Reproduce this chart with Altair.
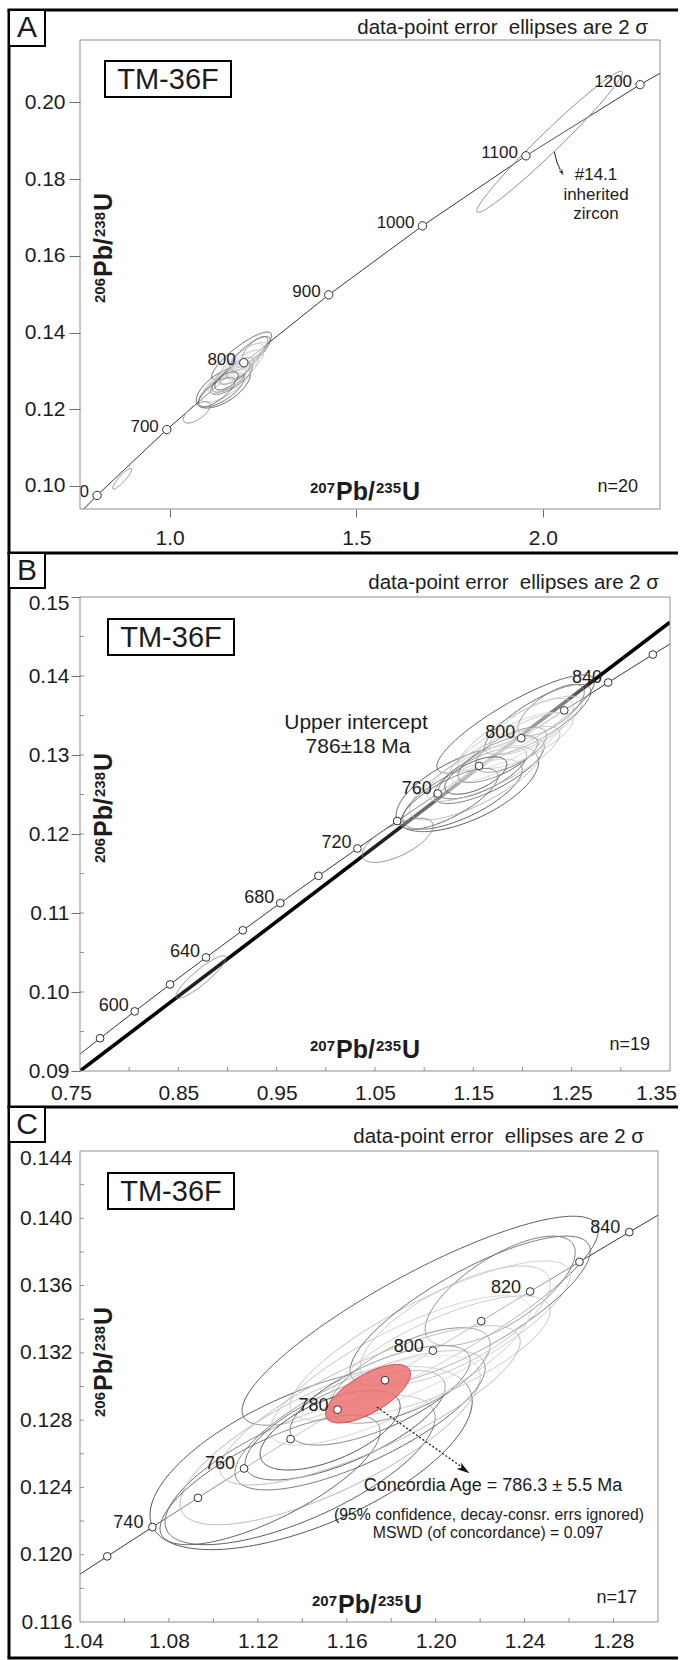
import numpy as np
import pandas as pd
import altair as alt

FONT = "Liberation Sans"
INK = "#1c1c1c"
CURVE = "#383838"
PLOT_EDGE = "#8f8f8f"
TICK = "#8f8f8f"

# ---------------- concordia reference points: age (Ma), 207Pb/235U, 206Pb/238U ----------------
A_AGE = [500, 600, 700, 800, 900, 1000, 1100, 1200, 1300]
A_R75 = [0.63628, 0.80563, 0.99251, 1.19873, 1.42629, 1.67741, 1.95452, 2.26030, 2.59774]
A_R68 = [0.080650, 0.097544, 0.114702, 0.132129, 0.149828, 0.167804, 0.186061, 0.204603, 0.223435]
A_DOTS = [600, 700, 800, 900, 1000, 1100, 1200]
A_TAGS = [600, 700, 800, 900, 1000, 1100, 1200]

B_AGE = [560, 580, 600, 620, 640, 660, 680, 700, 720, 740, 760, 780, 800, 820, 840, 860, 880]
B_R75 = [0.735882, 0.770414, 0.80563, 0.841548, 0.878182, 0.915543, 0.953647, 0.99251, 1.032144,
         1.07257, 1.113797, 1.155846, 1.19873, 1.242468, 1.287077, 1.332572, 1.378972]
B_R68 = [0.090755, 0.094144, 0.097544, 0.100955, 0.104376, 0.107807, 0.111249, 0.114702, 0.118166,
         0.121641, 0.125126, 0.128622, 0.132129, 0.135647, 0.139176, 0.142716, 0.146266]
B_DOTS = [580, 600, 620, 640, 660, 680, 700, 720, 740, 760, 780, 800, 820, 840, 860]
B_TAGS = [600, 640, 680, 720, 760, 800, 840]

C_AGE = [720, 730, 740, 750, 760, 770, 780, 790, 800, 810, 820, 830, 840, 850]
C_R75 = [1.032144, 1.052258, 1.07257, 1.093083, 1.113797, 1.134718, 1.155846, 1.177181,
         1.19873, 1.220491, 1.242468, 1.264662, 1.287077, 1.309712]
C_R68 = [0.118166, 0.119902, 0.121641, 0.123382, 0.125126, 0.126873, 0.128622, 0.130374,
         0.132129, 0.133887, 0.135647, 0.137410, 0.139176, 0.140944]
C_DOTS = [730, 740, 750, 760, 770, 780, 790, 800, 810, 820, 830, 840]
C_TAGS = [740, 760, 780, 800, 820, 840]

# ---------------- zircon spot analyses (2-sigma error ellipses) ----------------
SPOT = ["s01", "s02", "s03", "s04", "s05", "s06", "s07", "s08", "s09", "s10",
        "s11", "s12", "s13", "s14", "s15", "s16", "s17", "s18", "s19", "s20"]
SPOT_X = [1.19302, 1.14396, 1.13901, 1.15251, 1.16601, 1.15926, 1.18401, 1.19752, 1.21552, 1.22902,
          1.17501, 1.18851, 1.20202, 1.12551, 1.17051, 1.20877, 1.15251, 1.0730, 0.8730, 2.0180]
SPOT_Y = [0.133911, 0.125746, 0.125036, 0.126811, 0.127994, 0.127698, 0.130953, 0.132728, 0.134503,
          0.135686, 0.129473, 0.130657, 0.131840, 0.124444, 0.128882, 0.133615, 0.127402,
          0.11920, 0.10190, 0.18970]
SPOT_SX = [0.08011, 0.07246, 0.06076, 0.06751, 0.05626, 0.04500, 0.05851, 0.06301, 0.05401, 0.03375,
           0.04050, 0.03600, 0.04950, 0.04950, 0.06751, 0.04275, 0.03150, 0.0360, 0.0255, 0.1950]
SPOT_SY = [0.006213, 0.005444, 0.004438, 0.005030, 0.004142, 0.003254, 0.004438, 0.004734, 0.004438,
           0.003254, 0.002959, 0.002840, 0.003550, 0.003846, 0.004734, 0.003550, 0.002367,
           0.00280, 0.00270, 0.01838]
SPOT_RHO = [0.86, 0.62, 0.70, 0.75, 0.75, 0.70, 0.80, 0.82, 0.80, 0.70,
            0.70, 0.65, 0.75, 0.75, 0.80, 0.70, 0.60, 0.65, 0.90, 0.98]
SPOT_EDGE = ["#5e5e5e", "#585858", "#5c5c5c", "#b4b4b4", "#666666", "#404040", "#bcbcbc", "#c0c0c0",
             "#6a6a6a", "#7a7a7a", "#4a4a4a", "#6e6e6e", "#c4c4c4", "#626262", "#bdbdbd", "#c8c8c8",
             "#505050", "#8a8a8a", "#8a8a8a", "#8a8a8a"]
SPOT_IN = ["ABC"] * 17 + ["AB", "AB", "A"]

# concordia age ellipse (panel C)
CAGE_X = [1.1696]
CAGE_Y = [0.12957]
CAGE_SX = [0.0191]
CAGE_SY = [0.00174]
CAGE_RHO = [0.68]

# best-fit discordia through the spots (panel B)
DISC_X = [0.75, 1.35]
DISC_Y = [0.0900, 0.1468]

# annotation arrows
A_ARROW_X = [2.0305, 2.0375, 2.0469]
A_ARROW_Y = [0.18712, 0.18443, 0.18235]
A_HEAD = (2.0509, 0.18170, 60)
C_ARROW_X = [1.17353, 1.2120]
C_ARROW_Y = [0.128781, 0.125190]
C_HEAD = (1.21280, 0.125060, 35)

# axis ticks
A_XT = [1.0, 1.5, 2.0]
A_YT = [0.10, 0.12, 0.14, 0.16, 0.18, 0.20]
B_XT = [0.75, 0.85, 0.95, 1.05, 1.15, 1.25, 1.35]
B_YT = [0.09, 0.10, 0.11, 0.12, 0.13, 0.14, 0.15]
B_XMINOR = [0.80, 0.85, 0.90, 0.95, 1.00, 1.05, 1.10, 1.15, 1.20, 1.25, 1.30]
B_YMINOR = [0.095, 0.100, 0.105, 0.110, 0.115, 0.120, 0.125, 0.130, 0.135, 0.140, 0.145]
C_XT = [1.04, 1.08, 1.12, 1.16, 1.20, 1.24, 1.28]
C_YT = [0.116, 0.120, 0.124, 0.128, 0.132, 0.136, 0.140, 0.144]
C_XMINOR = [1.06, 1.08, 1.10, 1.12, 1.14, 1.16, 1.18, 1.20, 1.22, 1.24, 1.26, 1.28]
C_YMINOR = [0.118, 0.120, 0.122, 0.124, 0.126, 0.128, 0.130, 0.132, 0.134, 0.136, 0.138, 0.140, 0.142]

ONE = pd.DataFrame({"k": [0]})
TICK_FS = 21


def txt(s, x, y, size, align="center", baseline="middle", weight="normal", angle=None, color=INK):
    props = dict(text=s, font=FONT, fontSize=size, align=align, baseline=baseline,
                 fontWeight=weight, color=color)
    if angle is not None:
        props["angle"] = angle
    return alt.Chart(ONE).mark_text(**props).encode(x=alt.value(x), y=alt.value(y))


def rule(x, y, x2, y2, width=3.0, color="black"):
    return alt.Chart(ONE).mark_rule(strokeWidth=width, color=color, strokeCap="butt").encode(
        x=alt.value(x), y=alt.value(y), x2=alt.value(x2), y2=alt.value(y2))


def rect(x, y, x2, y2, stroke="black", width=2.0, fill="white", fill_opacity=1.0):
    return alt.Chart(ONE).mark_rect(stroke=stroke, strokeWidth=width, fill=fill,
                                    fillOpacity=fill_opacity).encode(
        x=alt.value(x), y=alt.value(y), x2=alt.value(x2), y2=alt.value(y2))


def outline(names, cx, cy, sx, sy, rho, edge, n=121):
    """Upper/lower branches of each error ellipse, sampled densely near the tips."""
    t = np.linspace(0.0, np.pi, n)
    u = -np.cos(t)
    parts = []
    for i in range(len(names)):
        half = np.sqrt(np.clip((1.0 - rho[i] ** 2) * (1.0 - u ** 2), 0.0, None))
        parts.append(pd.DataFrame({
            "eid": names[i], "edge": edge[i],
            "x": cx[i] + u * sx[i],
            "lo": cy[i] + (rho[i] * u - half) * sy[i],
            "hi": cy[i] + (rho[i] * u + half) * sy[i],
        }))
    return pd.concat(parts, ignore_index=True)


def spots_for(panel):
    idx = [i for i, p in enumerate(SPOT_IN) if panel in p]
    pick = lambda arr: [arr[i] for i in idx]
    return outline(pick(SPOT), pick(SPOT_X), pick(SPOT_Y), pick(SPOT_SX), pick(SPOT_SY),
                   pick(SPOT_RHO), pick(SPOT_EDGE))


def ratio_title(x0, y0, top, bottom, vertical=False):
    """Isotope ratio label built from superscript and normal pieces."""
    pieces = [(top, 0, 15, True), ("Pb/", 26, 25, False), (bottom, 66, 15, True), ("U", 92, 25, False)]
    out = []
    for s, off, fs, sup in pieces:
        if vertical:
            out.append(txt(s, x0 - (7 if sup else 0), y0 - off, fs, align="left",
                           baseline="alphabetic", weight="bold", angle=270))
        else:
            out.append(txt(s, x0 + off, y0 - (7 if sup else 0), fs, align="left",
                           baseline="alphabetic", weight="bold"))
    return out


def frame(y_top, y_bottom, box_bottom, letter_y, letter, bottom_line=False):
    out = [rule(-71, y_top, -71, y_bottom), rule(-72.5, y_top, 598, y_top)]
    if bottom_line:
        out.append(rule(-72.5, y_bottom, 598, y_bottom))
    out.append(rect(-71, y_top, -35, box_bottom, width=2))
    out.append(txt(letter, -53, letter_y, 30))
    return out


def sample_box(x, y):
    return [rect(x, y, x + 126, y + 36, width=2), txt("TM-36F", x + 63, y + 18.5, 29)]


def data_layers(xdom, ydom, xaxis, yaxis, age, r75, r68, dots, tags, tag_dx, tag_dy,
                tag_fs, dot_size, panel):
    sx = alt.Scale(domain=xdom, nice=False, zero=False)
    sy = alt.Scale(domain=ydom, nice=False, zero=False)
    X = lambda f: alt.X(f, scale=sx, axis=xaxis)
    Y = lambda f: alt.Y(f, scale=sy, axis=yaxis)
    curve = pd.DataFrame({"age": age, "r75": r75, "r68": r68})
    dots_df = curve[curve["age"].isin(dots)]
    tags_df = curve[curve["age"].isin(tags)].assign(lbl=lambda d: d["age"].astype(str))

    conc = alt.Chart(curve).mark_line(color=CURVE, strokeWidth=1, clip=True).encode(
        x=X("r75:Q"), y=Y("r68:Q"), order="age:Q")
    ells = alt.Chart(spots_for(panel)).mark_area(
        fill="white", fillOpacity=0.13, strokeWidth=1, clip=True, interpolate="linear").encode(
        x=X("x:Q"), y=Y("lo:Q"), y2="hi:Q", detail="eid:N",
        stroke=alt.Stroke("edge:N", scale=None))
    pts = alt.Chart(dots_df).mark_circle(size=dot_size, fill="white", stroke="#303030",
                                         strokeWidth=1, opacity=1, clip=True).encode(
        x=X("r75:Q"), y=Y("r68:Q"))
    lab = alt.Chart(tags_df).mark_text(align="right", baseline="middle", dx=tag_dx, dy=tag_dy,
                                       font=FONT, fontSize=tag_fs, color=INK, clip=True).encode(
        x=X("r75:Q"), y=Y("r68:Q"), text="lbl:N")
    return X, Y, conc, ells, pts, lab


def inward_ticks(X, Y, H, xs, ys):
    xt = alt.Chart(pd.DataFrame({"v": xs})).mark_rule(color=TICK, strokeWidth=1).encode(
        x=X("v:Q"), y=alt.value(H), y2=alt.value(H - 4))
    yt = alt.Chart(pd.DataFrame({"v": ys})).mark_rule(color=TICK, strokeWidth=1).encode(
        y=Y("v:Q"), x=alt.value(0), x2=alt.value(4))
    return [xt, yt]


HEADER = "data-point error\u00a0 ellipses are 2 \u03c3"
HEAD_FS = 20.5

# ======================= panel A =======================
WA, HA = 580, 469
axA_x = alt.Axis(values=A_XT, format=".1f", tickSize=8, labelPadding=10, title=None, zindex=2,
                 labelFlush=False)
axA_y = alt.Axis(values=A_YT, format=".2f", tickSize=11, labelPadding=4, title=None, zindex=2,
                 labelFlush=False)
XA, YA, concA, ellA, ptsA, labA = data_layers(
    [0.760, 2.3137], [0.094, 0.21625], axA_x, axA_y, A_AGE, A_R75, A_R68,
    A_DOTS, A_TAGS, -8, -3, 17, 70, "A")

arrowA = alt.Chart(pd.DataFrame({"x": A_ARROW_X, "y": A_ARROW_Y, "o": [0, 1, 2]})).mark_line(
    color="#222", strokeWidth=1).encode(x=XA("x:Q"), y=YA("y:Q"), order="o:Q")
headA = alt.Chart(pd.DataFrame({"x": [A_HEAD[0]], "y": [A_HEAD[1]]})).mark_point(
    shape="M1,0L-1,-0.6L-0.5,0L-1,0.6Z", filled=True, color="#222", size=40, angle=A_HEAD[2],
    opacity=1).encode(x=XA("x:Q"), y=YA("y:Q"))

panelA = alt.layer(
    rect(-80, -40, 600, 1620, stroke="white", width=0, fill="white"),
    *frame(-30, 513, 6, -12, "A"),
    concA, ellA, ptsA, labA, arrowA, headA,
    rect(0, 0, WA, HA, stroke=PLOT_EDGE, width=1, fill="white", fill_opacity=0),
    *sample_box(25, 21),
    txt(HEADER, 568, -12, HEAD_FS, align="right"),
    txt("n=20", 558, 447, 18, align="right"),
    txt("#14.1", 516, 135, 17), txt("inherited", 516, 155, 17), txt("zircon", 516, 174, 17),
    *ratio_title(230, 460, "207", "235"),
    *ratio_title(32, 263, "206", "238", vertical=True),
).properties(width=WA, height=HA)

# ======================= panel B =======================
# the view starts OB px above the drawn plot frame so that all three panels share one spacing
OB = 8
WB, HB = 590, 482
axB_x = alt.Axis(values=B_XT, format=".2f", ticks=False, labelPadding=11, title=None, zindex=2,
                 labelFlush=False,
                 labelOffset={"expr": "datum.value > 1.34 ? -14 : (datum.value < 0.76 ? -9 : 0)"})
axB_y = alt.Axis(values=B_YT, format=".2f", tickSize=9, labelPadding=2, title=None, zindex=2,
                 labelFlush=False,
                 labelOffset={"expr": "datum.value > 0.149 ? 6 : 0"})
XB, YB, concB, ellB, ptsB, labB = data_layers(
    [0.75, 1.35], [0.09, 0.151013], axB_x, axB_y, B_AGE, B_R75, B_R68,
    B_DOTS, B_TAGS, -6, -5, 18, 60, "B")
discB = alt.Chart(pd.DataFrame({"x": DISC_X, "y": DISC_Y})).mark_line(
    color="black", strokeWidth=3.6, clip=True).encode(x=XB("x:Q"), y=YB("y:Q"))

panelB = alt.layer(
    *frame(-44 + OB, 510 + OB, -9 + OB, -26.5 + OB, "B"),
    concB, discB, ellB, ptsB, labB,
    *inward_ticks(XB, YB, HB, B_XMINOR, B_YMINOR),
    rect(0, OB, WB, HB, stroke=PLOT_EDGE, width=1, fill="white", fill_opacity=0),
    *sample_box(28, 22 + OB),
    txt(HEADER, 579, -14 + OB, HEAD_FS, align="right"),
    txt("n=19", 570, 448 + OB, 18, align="right"),
    txt("Upper intercept", 276, 126 + OB, 21),
    txt("786\u00b118 Ma", 278, 150 + OB, 21),
    *ratio_title(230, 461 + OB, "207", "235"),
    *ratio_title(32, 266 + OB, "206", "238", vertical=True),
).properties(width=WB, height=HB)

# ======================= panel C =======================
WC, HC = 578, 471
axC_x = alt.Axis(values=C_XT, format=".2f", ticks=False, labelPadding=8, title=None, zindex=2,
                 labelFlush=False, labelOffset={"expr": "datum.value < 1.05 ? 3 : 0"})
axC_y = alt.Axis(values=C_YT, format=".3f", ticks=False, labelPadding=8, title=None, zindex=2,
                 labelFlush=False, labelOffset={"expr": "datum.value > 0.1435 ? 7 : 0"})
XC, YC, concC, ellC, ptsC, labC = data_layers(
    [1.04, 1.30], [0.116, 0.144], axC_x, axC_y, C_AGE, C_R75, C_R68,
    C_DOTS, C_TAGS, -9, -4, 18, 60, "C")
cage = alt.Chart(outline(["age"], CAGE_X, CAGE_Y, CAGE_SX, CAGE_SY, CAGE_RHO, ["#c24848"])).mark_area(
    fill="#ee7676", fillOpacity=0.88, stroke="#c24848", strokeWidth=1, clip=True).encode(
    x=XC("x:Q"), y=YC("lo:Q"), y2="hi:Q")
arrowC = alt.Chart(pd.DataFrame({"x": [C_ARROW_X[0]], "y": [C_ARROW_Y[0]],
                                 "x2": [C_ARROW_X[1]], "y2": [C_ARROW_Y[1]]})).mark_rule(
    color="#111", strokeWidth=1.2, strokeDash=[2, 2]).encode(
    x=XC("x:Q"), y=YC("y:Q"), x2="x2:Q", y2="y2:Q")
headC = alt.Chart(pd.DataFrame({"x": [C_HEAD[0]], "y": [C_HEAD[1]]})).mark_point(
    shape="M1,0L-1,-0.6L-0.5,0L-1,0.6Z", filled=True, color="#111", size=170, angle=C_HEAD[2],
    opacity=1).encode(x=XC("x:Q"), y=YC("y:Q"))

panelC = alt.layer(
    *frame(-44, 507, -9, -26.5, "C", bottom_line=True),
    concC, ellC, cage, ptsC, labC, arrowC, headC,
    *inward_ticks(XC, YC, HC, C_XMINOR, C_YMINOR),
    rect(0, 0, WC, HC, stroke=PLOT_EDGE, width=1, fill="white", fill_opacity=0),
    *sample_box(28, 22),
    txt(HEADER, 564, -14, HEAD_FS, align="right"),
    txt("n=17", 557, 447, 18, align="right"),
    txt("Concordia Age = 786.3 \u00b1 5.5 Ma", 413, 335, 18),
    txt("(95% confidence, decay-consr. errs ignored)", 409, 364, 15.8),
    txt("MSWD (of concordance) = 0.097", 408, 382, 15.8),
    *ratio_title(232, 462, "207", "235"),
    *ratio_title(32, 266, "206", "238", vertical=True),
).properties(width=WC, height=HC)

chart = alt.vconcat(panelA, panelB, panelC, spacing=80, bounds="flush").properties(
    padding=0, background="white"
).configure_view(stroke=None).configure_axis(
    labelFont=FONT, labelColor=INK, labelFontSize=TICK_FS, tickColor="#6f6f6f", tickWidth=1,
    domain=False, grid=False
)

chart.save("out.html", embed_options={"renderer": "svg", "actions": False})
